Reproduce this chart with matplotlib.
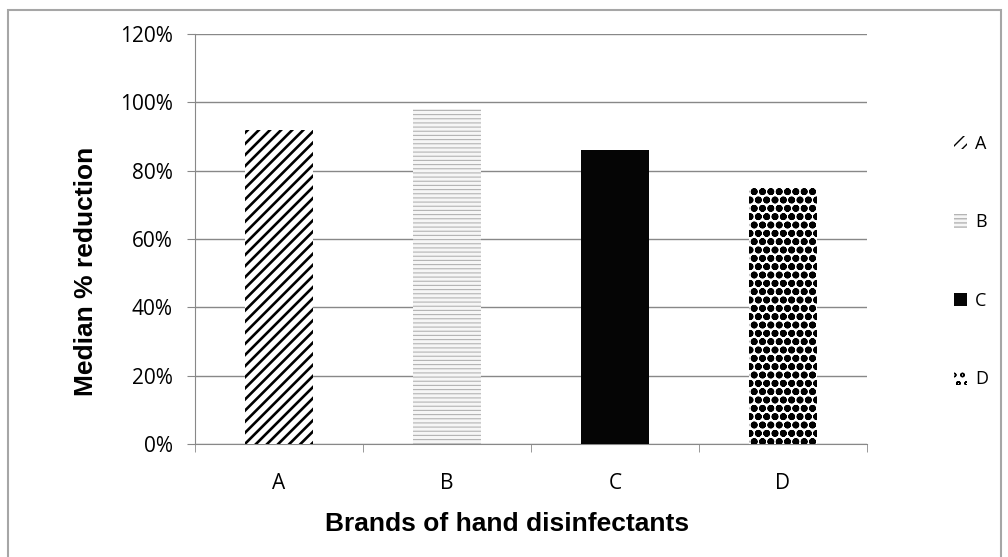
import matplotlib.pyplot as plt
from matplotlib.patches import Rectangle
import numpy as np

plt.rcParams['font.family'] = ['Open Sans', 'DejaVu Sans']

brands = ["A", "B", "C", "D"]
median_reduction = [92, 98, 86, 75]
y_ticks = [0, 20, 40, 60, 80, 100, 120]

fig = plt.figure(figsize=(10.08, 5.57), dpi=100)
# outer frame like the excel chart area
fig.patches.append(Rectangle((8 / 1008, -0.01), 993 / 1008, 1 - 10 / 557 + 0.01,
                             transform=fig.transFigure, fill=False,
                             edgecolor="#a6a6a6", linewidth=1.5))
ax = fig.add_axes([195 / 1008, 113 / 557, 672 / 1008, 410 / 557])

x = np.arange(len(brands))
# (style, hatch linewidth) per brand
styles = [
    (dict(facecolor="white", edgecolor="black", hatch="///"), 1.9),
    (dict(facecolor="#f6f6f6", edgecolor="#b4b4b4", hatch="----"), 0.8),
    (dict(facecolor="#050505", edgecolor="black", hatch=None), 1.0),
    (dict(facecolor="white", edgecolor="black", hatch="oo"), 2.5),
]
for i in range(len(brands)):
    st, hlw = styles[i]
    with plt.rc_context({"hatch.linewidth": hlw}):
        ax.bar(x[i], median_reduction[i], width=0.41, label=brands[i],
               linewidth=0, zorder=3, **st)

ax.set_xlim(-0.5, len(brands) - 0.5)
ax.set_ylim(0, 120)
ax.set_yticks(y_ticks)
ax.set_yticklabels([f"{v}%" for v in y_ticks], fontsize=15)
ax.set_xticks(x)
ax.set_xticklabels(brands, fontsize=15)
ax.set_xticks(np.arange(len(brands) + 1) - 0.5, minor=True)
ax.tick_params(axis="x", which="major", length=0, pad=21)
ax.tick_params(axis="x", which="minor", length=6, color="#888888")
ax.tick_params(axis="y", length=6, color="#888888", pad=10)
ax.grid(axis="y", color="#888888", linewidth=1, zorder=0)
for s in ["top", "right"]:
    ax.spines[s].set_visible(False)
for s in ["left", "bottom"]:
    ax.spines[s].set_color("#888888")

ax.set_ylabel("Median % reduction", fontsize=19, fontweight="bold", family=["Liberation Sans"])
ax.set_xlabel("Brands of hand disinfectants", fontsize=19, fontweight="bold", family=["Liberation Sans"])
ax.yaxis.set_label_coords(-0.145, 0.42)
ax.xaxis.set_label_coords(0.464, -0.166)

fig.legend(loc="center left", bbox_to_anchor=(0.93, 0.5305), frameon=False, fontsize=13,
           labelspacing=3.35, handlelength=0.75, handleheight=0.75, handletextpad=0.45)

plt.savefig("out.png", dpi=100)
